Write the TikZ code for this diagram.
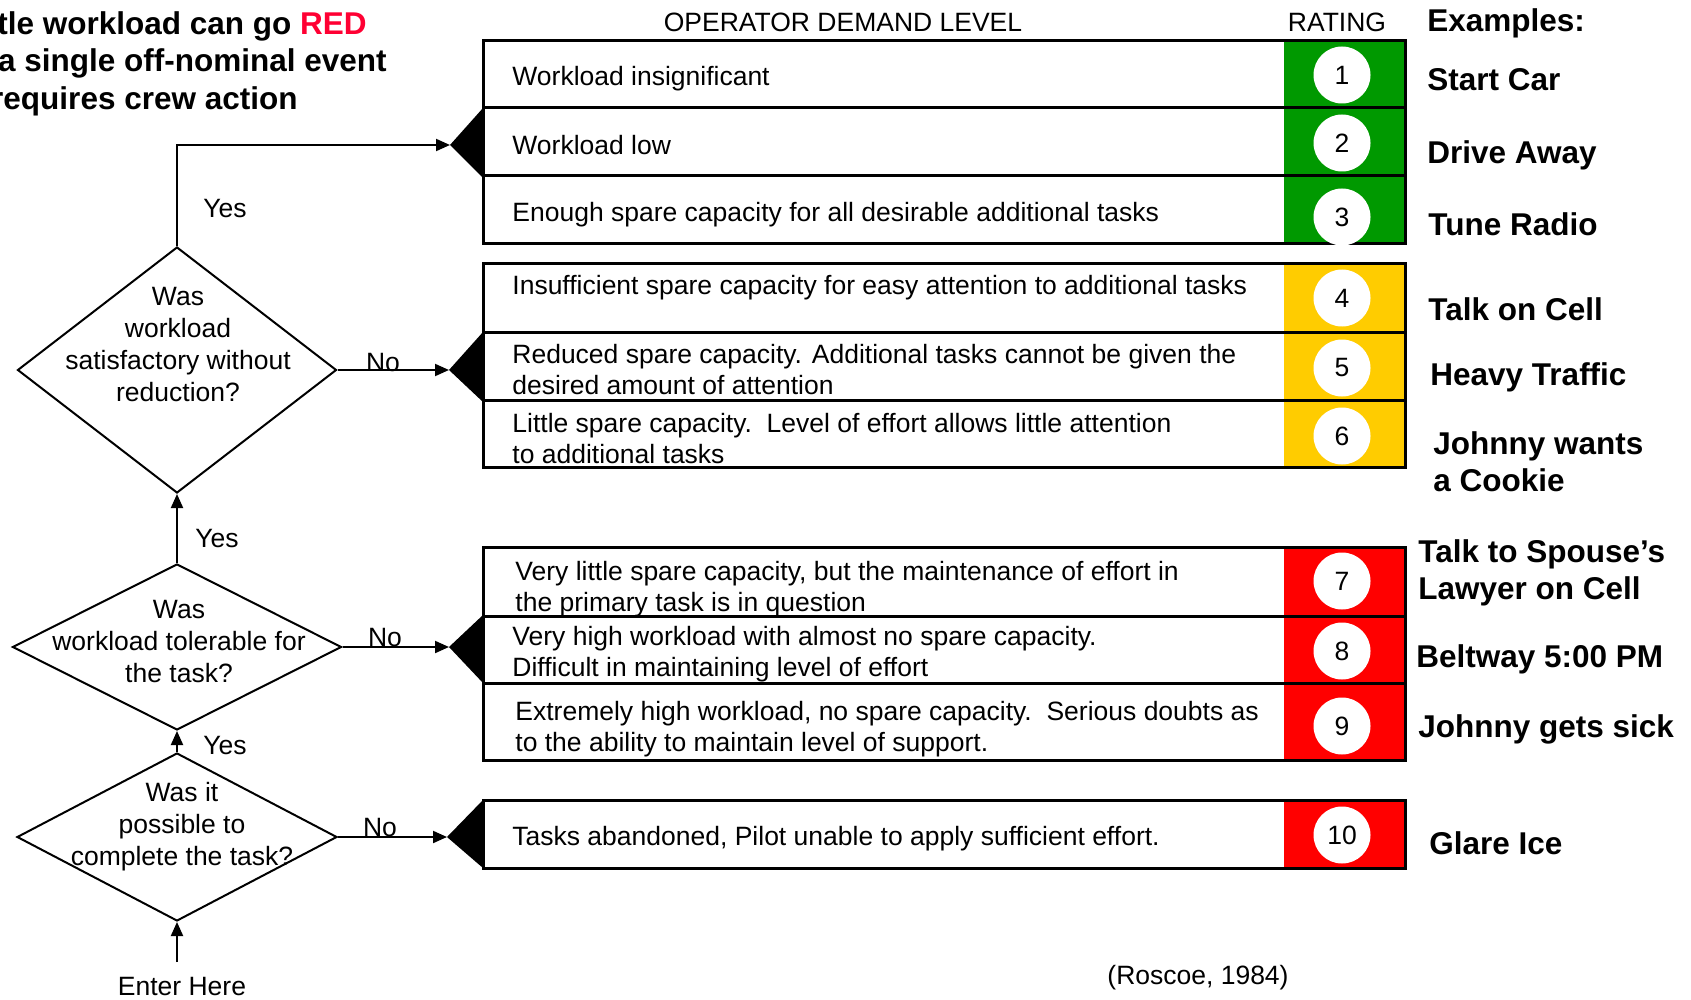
\documentclass[tikz,border=0pt]{standalone}
\usepackage{fontspec}
\setmainfont{Liberation Sans}
\usetikzlibrary{shapes.geometric,arrows.meta}
\definecolor{ratinggreen}{HTML}{009900}
\definecolor{ratingyellow}{HTML}{FFCC00}
\definecolor{ratingred}{HTML}{FF0000}
\definecolor{alertred}{HTML}{FF0033}
\tikzset{
  decision/.style={diamond, draw, line width=1pt, inner sep=0pt},
  qtext/.style={align=center, inner sep=0pt, font=\fontsize{13.25}{16}\selectfont},
  rowtext/.style={anchor=west, align=left, inner sep=0pt, font=\fontsize{13.25}{15.5}\selectfont},
  rate/.style={circle, fill=white, minimum size=28.5pt, inner sep=0pt, font=\fontsize{13.25}{15}\selectfont},
  example/.style={anchor=west, align=left, inner sep=0pt, font=\fontsize{15.75}{18.5}\selectfont\bfseries},
  warnline/.style={anchor=east, inner sep=0pt, font=\fontsize{15.75}{18.75}\selectfont\bfseries},
  lbl/.style={inner sep=0pt, font=\fontsize{13.25}{15}\selectfont},
  arr/.style={-{Triangle[length=7pt,width=6pt]}, line width=1pt},
  grid/.style={line width=1.5pt}
}
\begin{document}
\begin{tikzpicture}[x=0.5pt, y=-0.5pt]
\useasboundingbox (0,0) rectangle (1691,1000);
\node[warnline] (warn1) at (367,26) {tle workload can go \textcolor{alertred}{RED}};
\node[warnline] (warn2) at (387,63) {a single off-nominal event};
\node[warnline] (warn3) at (298,101) {requires crew action};
\node[lbl] (hdemand) at (843,22) {OPERATOR DEMAND LEVEL};
\node[lbl] (hrating) at (1337,22) {RATING};
\node[example] (hexamples) at (1427,23) {Examples:};

\foreach \top/\bot/\col in {41/244/ratinggreen, 264/467/ratingyellow, 547/760/ratingred, 800/868/ratingred} {
  \fill[\col] (1284,\top) rectangle (1405,\bot);
  \draw[grid] (483,\top) rectangle (1405,\bot);
}
\foreach \yy in {108,176,332,400,616,683}
  \draw[grid] (483,\yy) -- (1405,\yy);

\fill (483,108) -- (450,145) -- (483,178) -- cycle;
\fill (483,332) -- (449,370) -- (483,402) -- cycle;
\fill (483,615) -- (449,647) -- (483,683) -- cycle;
\fill (483,800) -- (447,837) -- (483,868) -- cycle;
\coordinate (ptr1) at (450,145);
\coordinate (ptr2) at (449,370);
\coordinate (ptr3) at (449,647);
\coordinate (ptr4) at (447,837);

\node[rowtext] (r1) at (512,79) {Workload insignificant};
\node[rowtext] (r2) at (512,145) {Workload low};
\node[rowtext] (r3) at (512,215) {Enough spare capacity for all desirable additional tasks};
\node[rowtext] (r4) at (512,288) {Insufficient spare capacity for easy attention to additional tasks};
\node[rowtext] (r5) at (512,370) {Reduced spare capacity. Additional tasks cannot be given the\\desired amount of attention};
\node[rowtext] (r6) at (512,439) {Little spare capacity.\ \ Level of effort allows little attention\\to additional tasks};
\node[rowtext] (r7) at (515,589) {Very little spare capacity, but the maintenance of effort in\\the primary task is in question};
\node[rowtext] (r8) at (512,654) {Very high workload with almost no spare capacity.\\Difficult in maintaining level of effort};
\node[rowtext] (r9) at (515,729) {Extremely high workload, no spare capacity.\ \ Serious doubts as\\to the ability to maintain level of support.};
\node[rowtext] (r10) at (512,839) {Tasks abandoned, Pilot unable to apply sufficient effort.};

\foreach \n/\yy in {1/75,2/143,3/217,4/298,5/368,6/436,7/581,8/651,9/726,10/835}
  \node[rate] (c\n) at (1342,\yy) {\n};

\node[example] (e1) at (1427,80) {Start Car};
\node[example] (e2) at (1427,155) {Drive Away};
\node[example] (e3) at (1428,224) {Tune Radio};
\node[example] (e4) at (1428,309) {Talk on Cell};
\node[example] (e5) at (1430,377) {Heavy Traffic};
\node[example] (e6) at (1433,462) {Johnny wants\\a Cookie};
\node[example] (e7) at (1418,573) {Talk to Spouse’s\\Lawyer on Cell};
\node[example] (e8) at (1416,659) {Beltway 5:00 PM};
\node[example] (e9) at (1418,729) {Johnny gets sick};
\node[example] (e10) at (1429,843) {Glare Ice};

\node[decision, minimum width=159.5pt, minimum height=123pt] (q1) at (177,370) {};
\node[decision, minimum width=164.5pt, minimum height=83pt] (q2) at (177,647) {};
\node[decision, minimum width=160pt, minimum height=84pt] (q3) at (177,837) {};
\node[qtext] (q1t) at (178,345) {Was\\workload\\satisfactory without\\reduction?};
\node[qtext] (q2t) at (179,642) {Was\\workload tolerable for\\the task?};
\node[qtext] (q3t) at (182,827) {Was it\\possible to\\complete the task?};

\node[lbl] (enter) at (182,987) {Enter Here};
\coordinate (entry) at (177,962);
\draw[arr] (entry) -- (q3.south);
\draw[arr] (q3.north) -- (q2.south);
\draw[arr] (q2.north) -- (q1.south);
\draw[arr] (q1.north) |- (ptr1);
\draw[arr] (q1.east) -- (ptr2);
\draw[arr] (q2.east) -- (ptr3);
\draw[arr] (q3.east) -- (ptr4);

\node[lbl] (yes1) at (225,209) {Yes};
\node[lbl] (yes2) at (217,539) {Yes};
\node[lbl] (yes3) at (225,746) {Yes};
\node[lbl] (no1) at (383,363) {No};
\node[lbl] (no2) at (385,638) {No};
\node[lbl] (no3) at (380,828) {No};

\node[lbl] (cite) at (1198,978) {(Roscoe, 1984)};
\end{tikzpicture}
\end{document}
